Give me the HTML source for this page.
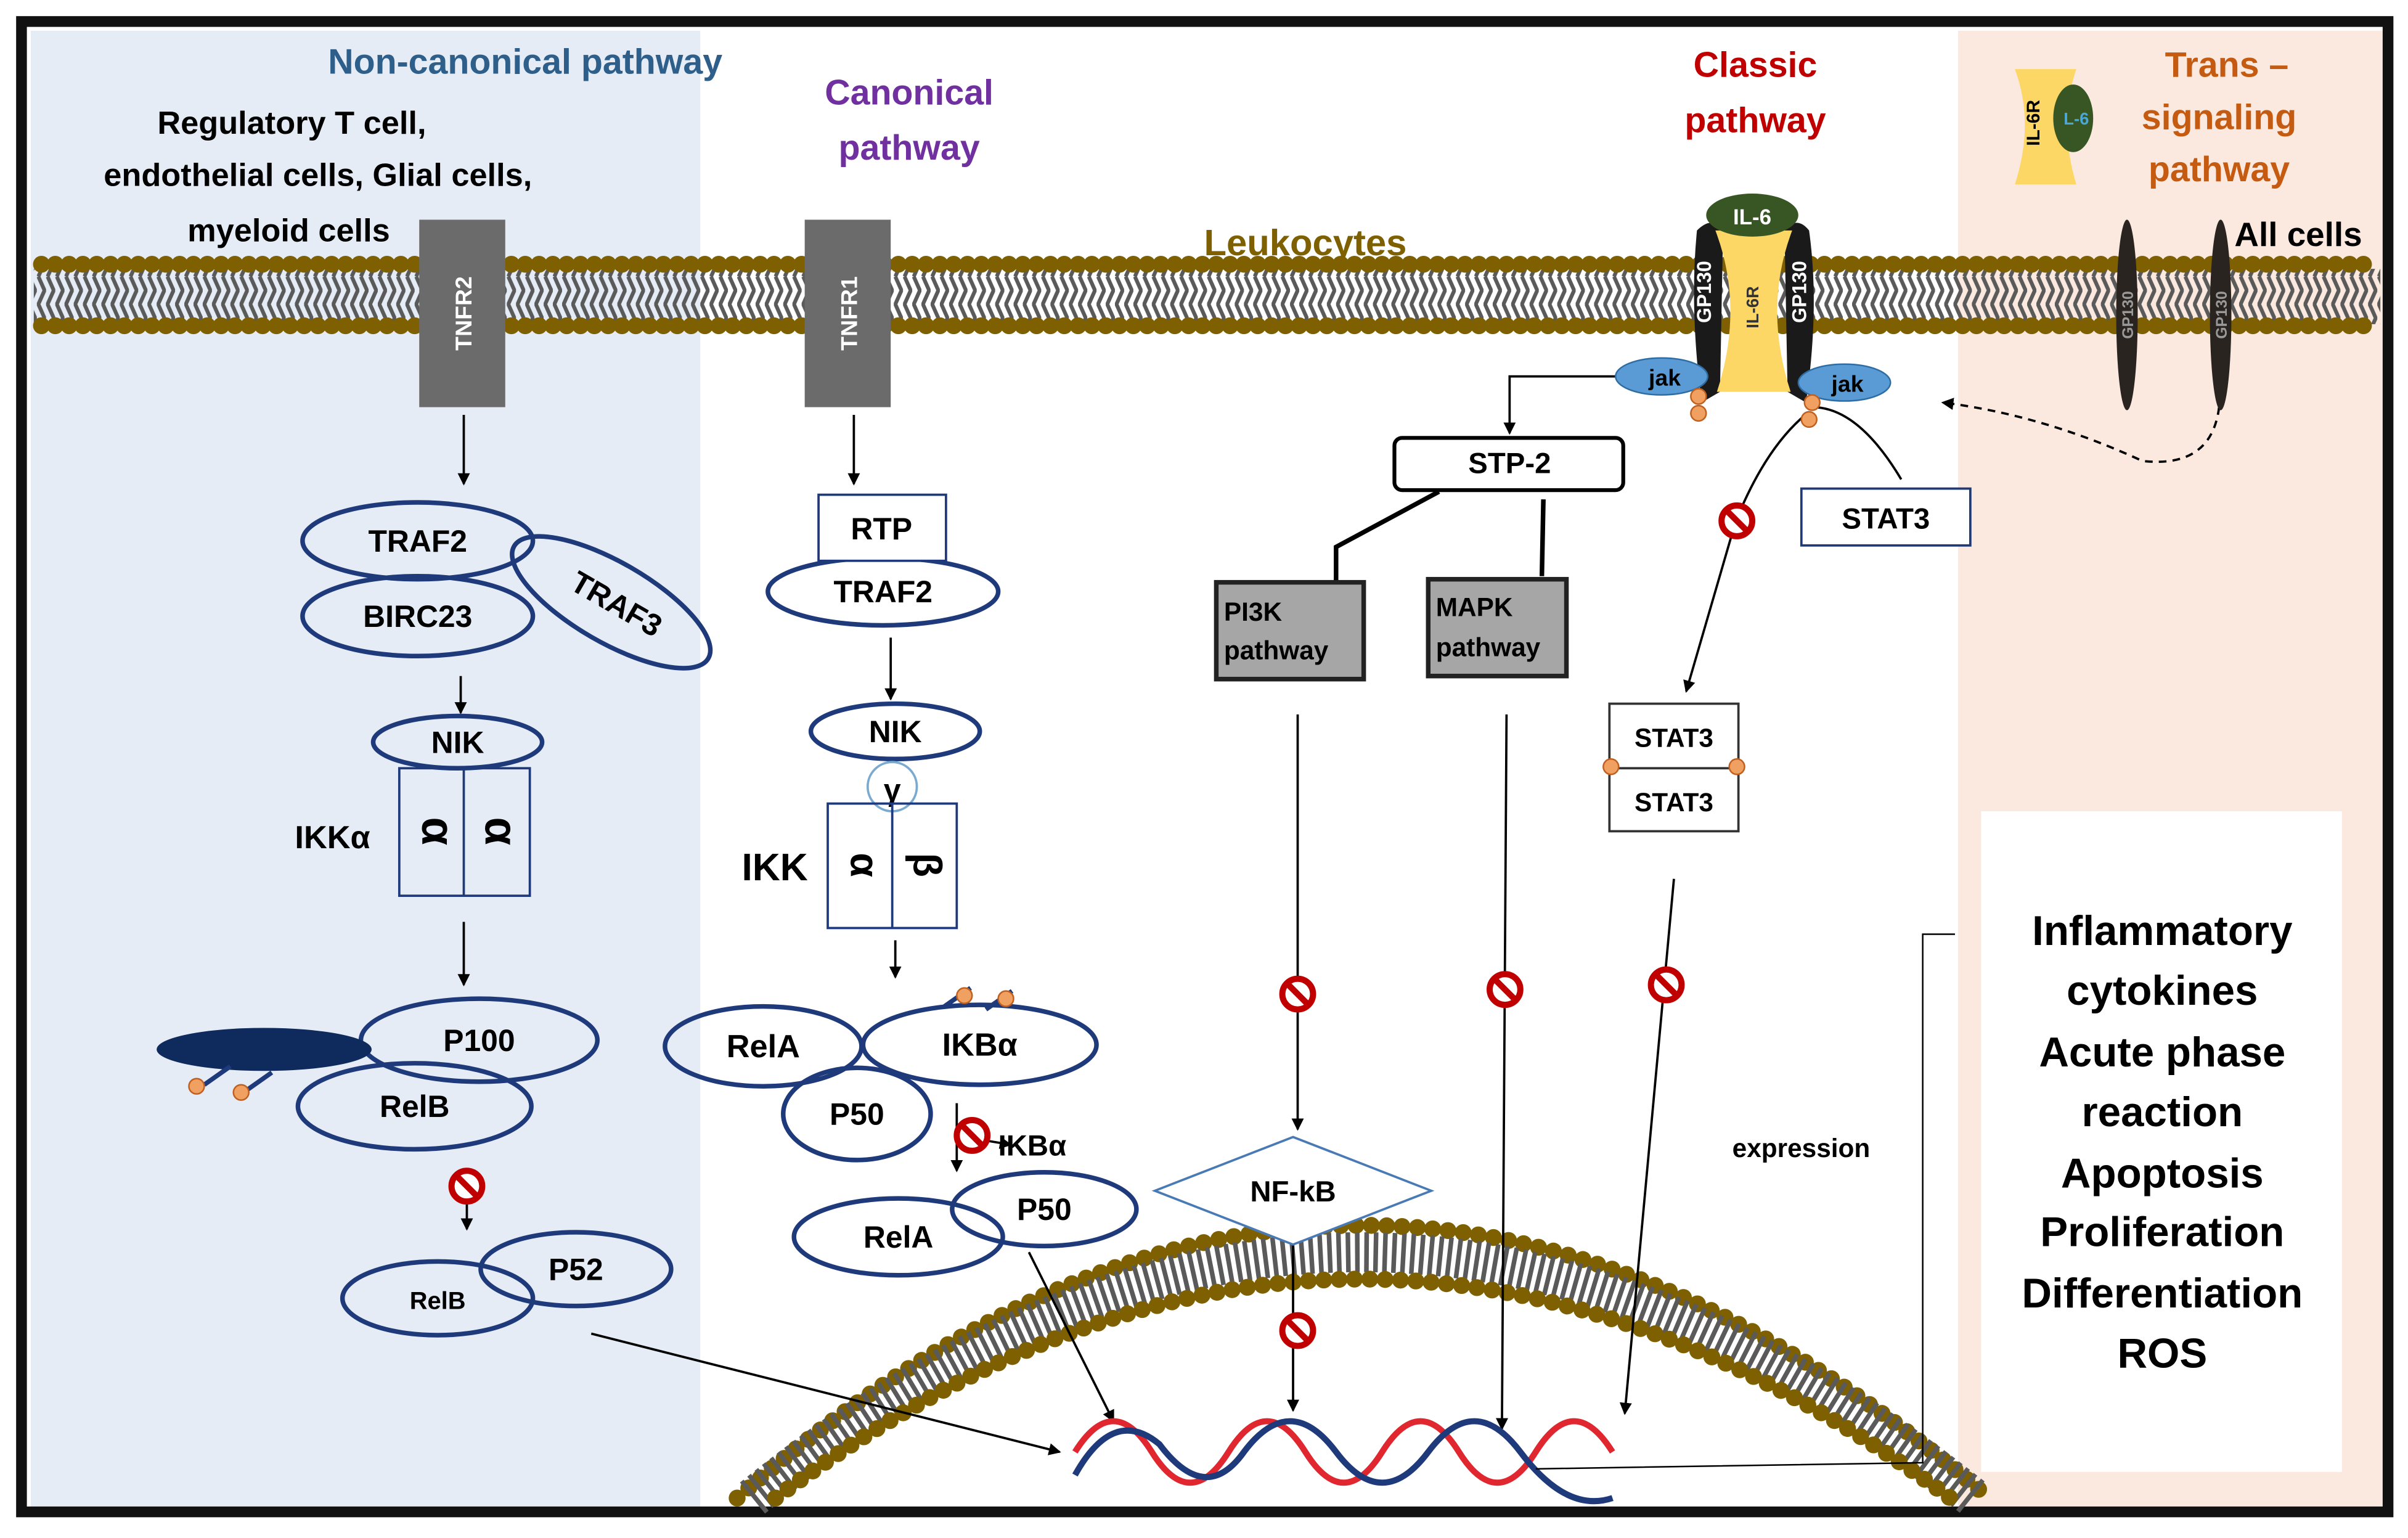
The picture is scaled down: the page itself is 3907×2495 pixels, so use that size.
<!DOCTYPE html>
<html><head><meta charset="utf-8"><style>
html,body{margin:0;padding:0;background:#fff;}
svg{display:block;}
text{font-family:"Liberation Sans",sans-serif;font-weight:bold;}
</style></head><body>
<svg width="3907" height="2495" viewBox="0 0 1568 1001" preserveAspectRatio="none" xmlns="http://www.w3.org/2000/svg">
<defs>
<pattern id="zig" width="6" height="36" patternUnits="userSpaceOnUse">
<path d="M1,0 L5,9 L1,18 L5,27 L1,36" stroke="#5a5a5a" stroke-width="2.5" fill="none"/>
</pattern>
<marker id="ar" markerWidth="8" markerHeight="8" refX="7" refY="4" orient="auto" markerUnits="userSpaceOnUse"><path d="M0,0 L8,4 L0,8z" fill="#000"/></marker>
<g id="inh"><circle r="10" fill="#fff" stroke="#c00000" stroke-width="4"/><line x1="-7" y1="-7" x2="7" y2="7" stroke="#c00000" stroke-width="4"/></g>
<g id="ball"><circle r="5" fill="#f0a060" stroke="#c06020" stroke-width="1"/></g>
</defs>
<rect width="1568" height="1001" fill="#fff"/>
<rect x="20" y="20" width="436" height="962" fill="#e5ecf6"/>
<rect x="1275" y="20" width="277" height="962" fill="#fbe9df"/>
<rect x="14" y="14" width="1541" height="970" fill="none" stroke="#111" stroke-width="7"/>

<!-- membrane -->
<rect x="22" y="175" width="1528" height="36" fill="url(#zig)"/>
<line x1="27" y1="172" x2="1548" y2="172" stroke="#7f6000" stroke-width="11" stroke-dasharray="0 9" stroke-linecap="round"/>
<line x1="27" y1="212" x2="1548" y2="212" stroke="#7f6000" stroke-width="11" stroke-dasharray="0 9" stroke-linecap="round"/>

<!-- nuclear membrane -->
<path d="M480,975 Q885,620 1295,975" fill="none" stroke="#7f6000" stroke-width="11" stroke-dasharray="0 10" stroke-linecap="round"/>
<path d="M490,975 Q885,655 1285,975" fill="none" stroke="#5a5a5a" stroke-width="26" stroke-dasharray="3 3"/>
<path d="M505,975 Q885,690 1270,975" fill="none" stroke="#7f6000" stroke-width="11" stroke-dasharray="0 10" stroke-linecap="round"/>

<!-- titles -->
<text x="342" y="48" font-size="23" fill="#2e5f8a" text-anchor="middle">Non-canonical  pathway</text>
<text x="190" y="87" font-size="21" text-anchor="middle">Regulatory T cell,</text>
<text x="207" y="121" font-size="21" text-anchor="middle">endothelial cells, Glial cells,</text>
<text x="188" y="157" font-size="21" text-anchor="middle">myeloid cells</text>
<text x="592" y="68" font-size="23" fill="#7030a0" text-anchor="middle">Canonical</text>
<text x="592" y="104" font-size="23" fill="#7030a0" text-anchor="middle">pathway</text>
<text x="850" y="166" font-size="24" fill="#7f6000" text-anchor="middle">Leukocytes</text>
<text x="1143" y="50" font-size="23" fill="#c00000" text-anchor="middle">Classic</text>
<text x="1143" y="86" font-size="23" fill="#c00000" text-anchor="middle">pathway</text>
<text x="1450" y="50" font-size="23" fill="#c55a11" text-anchor="middle">Trans –</text>
<text x="1445" y="84" font-size="23" fill="#c55a11" text-anchor="middle">signaling</text>
<text x="1445" y="118" font-size="23" fill="#c55a11" text-anchor="middle">pathway</text>
<text x="1455" y="160" font-size="22">All cells</text>

<!-- TNFR -->
<rect x="273" y="143" width="56" height="122" fill="#6b6b6b"/>
<text transform="translate(307,204) rotate(-90)" font-size="15" fill="#fff" text-anchor="middle">TNFR2</text>
<rect x="524" y="143" width="56" height="122" fill="#6b6b6b"/>
<text transform="translate(558,204) rotate(-90)" font-size="15" fill="#fff" text-anchor="middle">TNFR1</text>

<g stroke="#000" stroke-width="1.5" fill="none" marker-end="url(#ar)">
<line x1="302" y1="270" x2="302" y2="315"/>
<line x1="556" y1="270" x2="556" y2="315"/>
<line x1="300" y1="440" x2="300" y2="464"/>
<line x1="580" y1="415" x2="580" y2="455"/>
<line x1="302" y1="600" x2="302" y2="641"/>
<line x1="583" y1="612" x2="583" y2="636"/>
<line x1="304" y1="780" x2="304" y2="800"/>
<line x1="623" y1="718" x2="623" y2="762"/>
<line x1="640" y1="742" x2="658" y2="745"/>
<line x1="385" y1="868" x2="690" y2="945"/>
<line x1="670" y1="815" x2="725" y2="925"/>
<line x1="845" y1="465" x2="845" y2="735"/>
<line x1="842" y1="810" x2="842" y2="918"/>
<line x1="981" y1="465" x2="978" y2="930"/>
<line x1="1090" y1="572" x2="1058" y2="920"/>
<path d="M1178,268 Q1150,290 1130,340 L1098,450"/>
<path d="M1055,245 L983,245 L983,282"/>
<path d="M1445,265 Q1440,305 1395,300 Q1330,270 1265,262" stroke-dasharray="5 4"/>
</g>
<path d="M1238,312 Q1210,265 1180,265" fill="none" stroke="#000" stroke-width="1.5"/>
<path d="M937,320 L870,356 L870,378 M1005,325 L1004,375" fill="none" stroke="#000" stroke-width="3"/>

<g fill="none" stroke="#1f3a7a" stroke-width="3">
<ellipse cx="272" cy="352" rx="75" ry="25"/>
<ellipse cx="272" cy="401" rx="75" ry="26"/>
<ellipse cx="398" cy="392" rx="73" ry="26" transform="rotate(30 398 392)"/>
<ellipse cx="298" cy="483" rx="55" ry="17"/>
<ellipse cx="312" cy="677" rx="77" ry="27"/>
<ellipse cx="270" cy="720" rx="76" ry="28"/>
<ellipse cx="375" cy="826" rx="62" ry="24"/>
<ellipse cx="285" cy="845" rx="62" ry="24"/>
<ellipse cx="575" cy="385" rx="75" ry="22"/>
<ellipse cx="583" cy="476" rx="55" ry="18"/>
<ellipse cx="497" cy="681" rx="64" ry="26"/>
<ellipse cx="638" cy="680" rx="76" ry="26"/>
<ellipse cx="558" cy="725" rx="48" ry="30"/>
<ellipse cx="585" cy="805" rx="68" ry="25"/>
<ellipse cx="680" cy="787" rx="60" ry="24"/>
</g>
<ellipse cx="172" cy="683" rx="70" ry="14" fill="#0f2a5c"/>
<path d="M133,706 L150,694 M160,710 L177,698 M615,655 L632,643 M642,657 L659,645" stroke="#1f3a7a" stroke-width="3"/>
<use href="#ball" x="128" y="707"/><use href="#ball" x="157" y="711"/>
<use href="#ball" x="628" y="648"/><use href="#ball" x="655" y="650"/>
<g font-size="20" text-anchor="middle">
<text x="272" y="359">TRAF2</text>
<text x="272" y="408">BIRC23</text>
<text transform="translate(398,399) rotate(30)" text-anchor="middle">TRAF3</text>
<text x="298" y="490">NIK</text>
<text x="312" y="684">P100</text>
<text x="270" y="727">RelB</text>
<text x="375" y="833">P52</text>
<text x="285" y="852" font-size="16">RelB</text>
<text x="575" y="392">TRAF2</text>
<text x="583" y="483">NIK</text>
<text x="497" y="688" font-size="21">RelA</text>
<text x="638" y="687" font-size="21">IKBα</text>
<text x="558" y="732">P50</text>
<text x="585" y="812">RelA</text>
<text x="680" y="794">P50</text>
</g>
<rect x="260" y="500" width="85" height="83" fill="none" stroke="#1f3a7a" stroke-width="1.5"/>
<line x1="302" y1="500" x2="302" y2="583" stroke="#1f3a7a" stroke-width="1.5"/>
<text transform="translate(275,541) rotate(90)" font-size="30" font-family="Liberation Serif" text-anchor="middle">α</text>
<text transform="translate(316,541) rotate(90)" font-size="30" font-family="Liberation Serif" text-anchor="middle">α</text>
<text x="192" y="552" font-size="21">IKKα</text>
<rect x="533" y="322" width="83" height="43" fill="#fff" stroke="#1f3a7a" stroke-width="1.5"/>
<text x="574" y="351" font-size="20" text-anchor="middle">RTP</text>
<circle cx="581" cy="512" r="16" fill="#fff" stroke="#7aaad0" stroke-width="1.5"/>
<text x="581" y="521" font-size="20" text-anchor="middle" font-family="Liberation Serif">γ</text>
<rect x="539" y="523" width="84" height="81" fill="none" stroke="#1f3a7a" stroke-width="1.5"/>
<line x1="581" y1="523" x2="581" y2="604" stroke="#1f3a7a" stroke-width="1.5"/>
<text transform="translate(554,563) rotate(90)" font-size="26" font-family="Liberation Serif" text-anchor="middle">α</text>
<text transform="translate(595,563) rotate(90)" font-size="26" font-family="Liberation Serif" text-anchor="middle">β</text>
<text x="483" y="573" font-size="25">IKK</text>
<text x="650" y="752" font-size="19">IKBα</text>

<!-- classic receptor -->
<path d="M1105,150 Q1115,140 1122,150 L1120,255 L1108,262 Q1100,200 1105,150z" fill="#1a1a1a"/>
<path d="M1162,150 Q1170,140 1178,150 Q1185,200 1176,262 L1164,255z" fill="#1a1a1a"/>
<path d="M1117,150 L1167,150 Q1148,200 1166,255 L1118,255 Q1136,200 1117,150z" fill="#fcd765"/>
<ellipse cx="1141" cy="140" rx="30" ry="14" fill="#375623"/>
<text x="1141" y="146" font-size="14" fill="#fff" text-anchor="middle">IL-6</text>
<text transform="translate(1114,190) rotate(-90)" font-size="13" fill="#fff" text-anchor="middle">GP130</text>
<text transform="translate(1176,190) rotate(-90)" font-size="13" fill="#fff" text-anchor="middle">GP130</text>
<text transform="translate(1145,200) rotate(-90)" font-size="11" fill="#333" text-anchor="middle" font-weight="normal">IL-6R</text>
<ellipse cx="1082" cy="245" rx="30" ry="12" fill="#5b9bd5" stroke="#2e6da4"/>
<text x="1084" y="251" font-size="15" text-anchor="middle" font-weight="normal">jak</text>
<ellipse cx="1201" cy="249" rx="30" ry="12" fill="#5b9bd5" stroke="#2e6da4"/>
<text x="1203" y="255" font-size="15" text-anchor="middle" font-weight="normal">jak</text>
<use href="#ball" x="1106" y="258"/><use href="#ball" x="1106" y="269"/>
<use href="#ball" x="1180" y="262"/><use href="#ball" x="1178" y="273"/>

<!-- trans icon -->
<path d="M1312,45 L1352,45 Q1340,80 1352,120 L1312,120 Q1325,80 1312,45z" fill="#fcd765"/>
<ellipse cx="1350" cy="77" rx="13" ry="22" fill="#375623"/>
<text x="1352" y="81" font-size="11" fill="#4aa8d8" text-anchor="middle">L-6</text>
<text transform="translate(1328,80) rotate(-90)" font-size="12" text-anchor="middle">IL-6R</text>
<ellipse cx="1385" cy="205" rx="7" ry="62" fill="#2a2420"/>
<ellipse cx="1446" cy="205" rx="7" ry="62" fill="#2a2420"/>
<text transform="translate(1389,205) rotate(-90)" font-size="10" fill="#999" text-anchor="middle">GP130</text>
<text transform="translate(1450,205) rotate(-90)" font-size="10" fill="#999" text-anchor="middle">GP130</text>

<!-- boxes -->
<rect x="908" y="285" width="149" height="34" rx="5" fill="#fff" stroke="#000" stroke-width="2.5"/>
<text x="983" y="308" font-size="19" text-anchor="middle">STP-2</text>
<rect x="792" y="379" width="96" height="63" fill="#a6a6a6" stroke="#222" stroke-width="3"/>
<text x="797" y="404" font-size="17">PI3K</text><text x="797" y="429" font-size="17">pathway</text>
<rect x="930" y="377" width="90" height="63" fill="#a6a6a6" stroke="#222" stroke-width="3"/>
<text x="935" y="401" font-size="17">MAPK</text><text x="935" y="427" font-size="17">pathway</text>
<rect x="1173" y="318" width="110" height="37" fill="#fff" stroke="#1f3a7a" stroke-width="1.5"/>
<text x="1228" y="344" font-size="19" text-anchor="middle">STAT3</text>
<rect x="1048" y="458" width="84" height="83" fill="#fff" stroke="#333" stroke-width="1.5"/>
<line x1="1048" y1="500" x2="1132" y2="500" stroke="#333" stroke-width="1.5"/>
<text x="1090" y="486" font-size="17" text-anchor="middle">STAT3</text>
<text x="1090" y="528" font-size="17" text-anchor="middle">STAT3</text>
<use href="#ball" x="1049" y="499"/><use href="#ball" x="1131" y="499"/>
<polygon points="752,775 842,740 932,775 842,810" fill="#fff" stroke="#4a7ab5" stroke-width="1.5"/>
<text x="842" y="782" font-size="19" text-anchor="middle" font-weight="normal">NF-kB</text>

<use href="#inh" x="304" y="772"/>
<use href="#inh" x="633" y="739"/>
<use href="#inh" x="845" y="647"/>
<use href="#inh" x="845" y="866"/>
<use href="#inh" x="980" y="644"/>
<use href="#inh" x="1085" y="641"/>
<use href="#inh" x="1131" y="339"/>

<!-- DNA -->
<path d="M700,945 Q725,905 750,945 T800,945 T850,945 T900,945 T950,945 T1000,945 T1050,945" fill="none" stroke="#e0262f" stroke-width="4"/>
<path d="M700,960 Q725,915 755,940 Q785,980 810,945 Q840,905 870,945 Q900,985 930,945 Q960,905 990,945 Q1020,985 1050,975" fill="none" stroke="#1f3a7a" stroke-width="4"/>

<text x="1128" y="753" font-size="17">expression</text>
<path d="M1273,608 L1252,608 L1252,952 L1000,956" fill="none" stroke="#000" stroke-width="1"/>
<rect x="1290" y="528" width="235" height="430" fill="#fff"/>
<g font-size="27" text-anchor="middle">
<text x="1408" y="615">Inflammatory</text>
<text x="1408" y="654">cytokines</text>
<text x="1408" y="694">Acute phase</text>
<text x="1408" y="733">reaction</text>
<text x="1408" y="773">Apoptosis</text>
<text x="1408" y="811">Proliferation</text>
<text x="1408" y="851">Differentiation</text>
<text x="1408" y="890">ROS</text>
</g>
</svg>
</body></html>
